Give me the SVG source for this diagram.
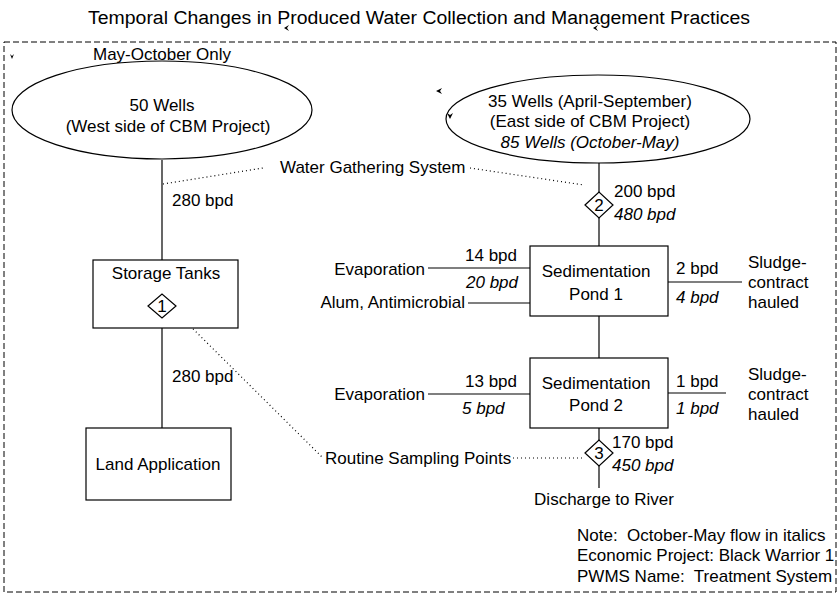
<svg xmlns="http://www.w3.org/2000/svg" width="839" height="596" viewBox="0 0 839 596">
<style>
text{font-family:"Liberation Sans",Arial,sans-serif;font-size:17px;fill:#000;white-space:pre}
.i{font-style:italic}
.m{text-anchor:middle}
.e{text-anchor:end}
.s{fill:#fff;stroke:#000;stroke-width:1.2}
.l{stroke:#000;stroke-width:1.2;fill:none}
.d{stroke:#000;stroke-width:1.2;fill:none;stroke-dasharray:1 3}
.k{fill:#000;stroke:none}
</style>
<rect width="839" height="596" fill="#fff"/>
<text x="88" y="24" style="font-size:18px" textLength="662" lengthAdjust="spacingAndGlyphs">Temporal Changes in Produced Water Collection and Management Practices</text>
<rect x="4" y="42" width="832" height="550" fill="none" stroke="#000" stroke-width="1" stroke-dasharray="6 3"/>
<text x="93" y="60">May-October Only</text>
<g id="connectors">
<line class="l" x1="162" y1="160" x2="162" y2="260"/>
<line class="l" x1="162" y1="328" x2="162" y2="428"/>
<line class="l" x1="599" y1="163" x2="599" y2="246"/>
<line class="l" x1="599" y1="316" x2="599" y2="358"/>
<line class="l" x1="599" y1="428" x2="599" y2="488"/>
<line class="l" x1="428" y1="268" x2="530" y2="268"/>
<line class="l" x1="468" y1="303" x2="530" y2="303"/>
<line class="l" x1="668" y1="282" x2="742" y2="282"/>
<line class="l" x1="428" y1="394" x2="530" y2="394"/>
<line class="l" x1="668" y1="393" x2="726" y2="393"/>
<line class="d" x1="163" y1="184" x2="263" y2="168"/>
<line class="d" x1="470" y1="168" x2="584" y2="185"/>
<line class="d" x1="176" y1="312" x2="322" y2="457"/>
<line class="d" x1="513" y1="458" x2="584" y2="458"/>
</g>
<g id="west-wells">
<ellipse class="s" cx="162" cy="110" rx="150" ry="49"/>
<text x="162" y="111" class="m">50 Wells</text>
<text x="168" y="132" class="m">(West side of CBM Project)</text>
</g>
<g id="east-wells">
<ellipse class="s" cx="598" cy="119" rx="152" ry="44"/>
<text x="590" y="107" class="m">35 Wells (April-September)</text>
<text x="590" y="127" class="m">(East side of CBM Project)</text>
<text x="590" y="148" class="m i">85 Wells (October-May)</text>
</g>
<g id="gathering-label"><text x="280" y="173">Water Gathering System</text></g>
<g id="storage-tanks">
<rect class="s" x="93" y="260" width="145" height="68"/>
<text x="166" y="279" class="m">Storage Tanks</text>
</g>
<g id="sp1">
<polygon class="s" points="148,306 162,294 176,306 162,318"/>
<text x="162" y="312" class="m">1</text>
</g>
<g id="land-application">
<rect class="s" x="86" y="428" width="145" height="72"/>
<text x="158" y="470" class="m">Land Application</text>
</g>
<text x="172" y="206">280 bpd</text>
<text x="172" y="382">280 bpd</text>
<g id="sp2">
<polygon class="s" points="585,205 599,192 613,205 599,218"/>
<text x="599" y="211" class="m">2</text>
</g>
<text x="614" y="197">200 bpd</text>
<text x="614" y="220" class="i">480 bpd</text>
<g id="pond1">
<rect class="s" x="530" y="246" width="138" height="70"/>
<text x="596" y="277" class="m">Sedimentation</text>
<text x="596" y="300" class="m">Pond 1</text>
</g>
<g id="evap1"><text x="425" y="275" class="e">Evaporation</text></g>
<text x="465" y="261">14 bpd</text>
<text x="466" y="288" class="i">20 bpd</text>
<g id="alum"><text x="465" y="308" class="e">Alum, Antimicrobial</text></g>
<text x="676" y="274">2 bpd</text>
<text x="676" y="303" class="i">4 bpd</text>
<g id="sludge1">
<text x="748" y="268">Sludge-</text>
<text x="748" y="288">contract</text>
<text x="748" y="308">hauled</text>
</g>
<g id="pond2">
<rect class="s" x="530" y="358" width="138" height="70"/>
<text x="596" y="389" class="m">Sedimentation</text>
<text x="596" y="411" class="m">Pond 2</text>
</g>
<g id="evap2"><text x="425" y="400" class="e">Evaporation</text></g>
<text x="465" y="387">13 bpd</text>
<text x="462" y="414" class="i">5 bpd</text>
<text x="676" y="387">1 bpd</text>
<text x="676" y="414" class="i">1 bpd</text>
<g id="sludge2">
<text x="748" y="380">Sludge-</text>
<text x="748" y="400">contract</text>
<text x="748" y="420">hauled</text>
</g>
<g id="sp3">
<polygon class="s" points="585,453 599,440 613,453 599,466"/>
<text x="599" y="459" class="m">3</text>
</g>
<text x="612" y="448">170 bpd</text>
<text x="612" y="471" class="i">450 bpd</text>
<g id="sampling-label"><text x="325" y="464">Routine Sampling Points</text></g>
<g id="discharge"><text x="604" y="505" class="m">Discharge to River</text></g>
<g id="notes">
<text x="577" y="541">Note:  October-May flow in italics</text>
<text x="577" y="561">Economic Project: Black Warrior 1</text>
<text x="577" y="582">PWMS Name:  Treatment System</text>
</g>
<g id="marks">
<path class="k" d="M10,54 L12,59 L14,54 L12,56 Z"/>
<path class="k" d="M289,25 L284,28 L289,31 L287,28 Z"/>
<path class="k" d="M598,25 L593,28 L598,31 L596,28 Z"/>
<path class="k" d="M442,88 L436,91 L442,94 L440,91 Z"/>
<path class="k" d="M447,113 L450,119 L453,113 L450,115 Z"/>
</g>
</svg>
